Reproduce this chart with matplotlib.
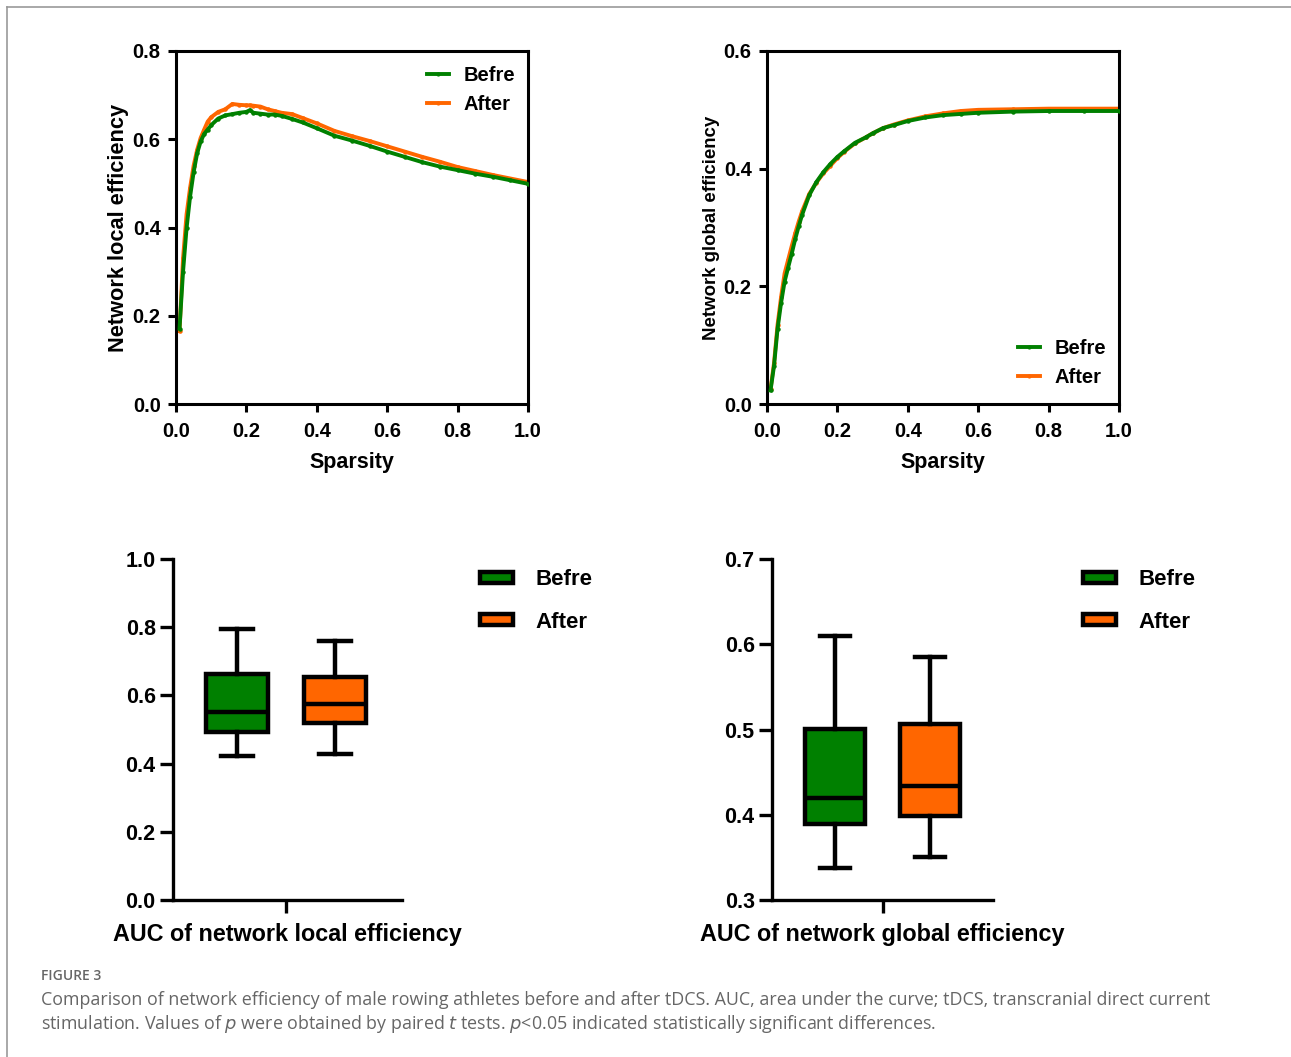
import numpy as np
import matplotlib
matplotlib.use("Agg")
import matplotlib.pyplot as plt
from matplotlib.patches import Patch
from matplotlib.lines import Line2D

plt.rcParams['font.family'] = ['Liberation Sans', 'DejaVu Sans']

W, H = 1291, 1057
GREEN = '#008000'
ORANGE = '#FF6600'

# --- curve data ---
sparsity_local = [0.01, 0.02, 0.03, 0.04, 0.05, 0.06, 0.07, 0.08, 0.09, 0.10,
                  0.12, 0.14, 0.16, 0.18, 0.20, 0.21, 0.22, 0.24, 0.26, 0.28,
                  0.30, 0.33, 0.36, 0.40, 0.45, 0.50, 0.55, 0.60, 0.65, 0.70,
                  0.75, 0.80, 0.85, 0.90, 0.95, 1.00]
local_before = [0.171, 0.300, 0.398, 0.470, 0.525, 0.568, 0.595, 0.612, 0.622, 0.632,
                0.647, 0.654, 0.657, 0.660, 0.662, 0.666, 0.660, 0.658, 0.656, 0.656,
                0.653, 0.646, 0.638, 0.625, 0.608, 0.597, 0.585, 0.572, 0.560, 0.548,
                0.538, 0.530, 0.522, 0.515, 0.507, 0.499]
local_after = [0.165, 0.330, 0.430, 0.490, 0.540, 0.576, 0.603, 0.622, 0.640, 0.650,
               0.662, 0.668, 0.680, 0.678, 0.677, 0.677, 0.676, 0.674, 0.668, 0.664,
               0.660, 0.657, 0.648, 0.636, 0.619, 0.607, 0.596, 0.584, 0.572, 0.560,
               0.549, 0.537, 0.528, 0.519, 0.511, 0.503]

sparsity_global = [0.01, 0.02, 0.03, 0.04, 0.05, 0.06, 0.07, 0.08, 0.09, 0.10,
                   0.12, 0.14, 0.16, 0.18, 0.20, 0.22, 0.25, 0.28, 0.30, 0.33,
                   0.36, 0.40, 0.45, 0.50, 0.55, 0.60, 0.70, 0.80, 0.90, 1.00]
global_before = [0.023, 0.065, 0.128, 0.172, 0.208, 0.232, 0.255, 0.280, 0.302, 0.322,
                 0.355, 0.377, 0.394, 0.408, 0.420, 0.430, 0.444, 0.453, 0.460, 0.469,
                 0.474, 0.481, 0.487, 0.491, 0.493, 0.495, 0.497, 0.498, 0.498, 0.498]
global_after = [0.025, 0.070, 0.135, 0.182, 0.222, 0.245, 0.268, 0.290, 0.310, 0.328,
                0.357, 0.376, 0.392, 0.405, 0.418, 0.429, 0.443, 0.453, 0.460, 0.469,
                0.475, 0.482, 0.489, 0.494, 0.498, 0.500, 0.501, 0.502, 0.502, 0.502]

# --- box plot data: whisker low, q1, median, q3, whisker high ---
auc_local_before = [0.423, 0.493, 0.552, 0.662, 0.795]
auc_local_after = [0.427, 0.518, 0.574, 0.653, 0.760]
auc_global_before = [0.338, 0.389, 0.420, 0.501, 0.610]
auc_global_after = [0.350, 0.399, 0.434, 0.506, 0.585]

labels = ['Befre', 'After']


def px_axes(fig, x0, y0, x1, y1):
    return fig.add_axes([x0 / W, 1 - y1 / H, (x1 - x0) / W, (y1 - y0) / H])


def px(x, y):
    return (x / W, 1 - y / H)


def stats(v):
    return dict(whislo=v[0], q1=v[1], med=v[2], q3=v[3], whishi=v[4], fliers=[])


fig = plt.figure(figsize=(W / 100, H / 100), dpi=100)

# page border lines
fig.add_artist(Line2D([7 / W, 1], [1 - 7 / H, 1 - 7 / H], color='#999999', lw=1.2))
fig.add_artist(Line2D([7 / W, 7 / W], [0, 1 - 7 / H], color='#999999', lw=1.2))


def line_panel(ax, x, yb, ya, ymax, ylabel, ylab_size, ylab_pad, leg_anchor):
    ax.plot(x, yb, '-', color=GREEN, lw=2.8, marker='o', ms=2.2, label=labels[0], zorder=3)
    ax.plot(x, ya, '-', color=ORANGE, lw=2.8, marker='o', ms=2.2, label=labels[1], zorder=2)
    ax.set_xlim(0, 1.0)
    ax.set_ylim(0, ymax)
    ax.set_xticks(np.arange(0, 1.01, 0.2))
    ax.set_yticks(np.arange(0, ymax + 0.001, 0.2))
    ax.xaxis.set_major_formatter(matplotlib.ticker.FormatStrFormatter('%.1f'))
    ax.yaxis.set_major_formatter(matplotlib.ticker.FormatStrFormatter('%.1f'))
    for s in ax.spines.values():
        s.set_linewidth(2.2)
    ax.tick_params(direction='out', length=6, width=2.2, labelsize=14.5, pad=5)
    ax.tick_params(axis='x', pad=7)
    for t in ax.get_xticklabels() + ax.get_yticklabels():
        t.set_fontweight('bold')
    ax.set_xlabel('Sparsity', fontsize=15.5, fontweight='bold', labelpad=8)
    ax.set_ylabel(ylabel, fontsize=ylab_size, fontweight='bold', labelpad=ylab_pad)
    leg = ax.legend(loc='center left', bbox_to_anchor=px(*leg_anchor),
                    bbox_transform=fig.transFigure, frameon=False,
                    prop=dict(size=14.5, weight='bold'), handlelength=1.1,
                    handletextpad=0.7, labelspacing=0.5, borderaxespad=0,
                    borderpad=0)
    for h in leg.legend_handles:
        h.set_markersize(2)


ax1 = px_axes(fig, 176, 51, 528, 404)
line_panel(ax1, sparsity_local, local_before, local_after, 0.8,
           'Network local efficiency', 15.7, 3, (427, 90))

ax2 = px_axes(fig, 767, 51, 1119, 404)
line_panel(ax2, sparsity_global, global_before, global_after, 0.6,
           'Network global efficiency', 13.4, 3, (1018, 363))


def box_panel(ax, before, after, ylim, yticks, xlabel, xlim):
    bxp = ax.bxp([stats(before), stats(after)], positions=[1, 2], widths=0.63,
                 patch_artist=True, showfliers=False,
                 boxprops=dict(linewidth=3.2, edgecolor='black'),
                 medianprops=dict(color='black', linewidth=3.2),
                 whiskerprops=dict(color='black', linewidth=3.2),
                 capprops=dict(color='black', linewidth=3.2),
                 capwidths=0.32)
    for b, c in zip(bxp['boxes'], [GREEN, ORANGE]):
        b.set_facecolor(c)
    ax.set_xlim(*xlim)
    ax.set_ylim(*ylim)
    ax.set_yticks(yticks)
    ax.yaxis.set_major_formatter(matplotlib.ticker.FormatStrFormatter('%.1f'))
    ax.set_xticks([1.5])
    ax.set_xticklabels([''])
    ax.spines['top'].set_visible(False)
    ax.spines['right'].set_visible(False)
    ax.spines['left'].set_linewidth(2.4)
    ax.spines['bottom'].set_linewidth(2.4)
    ax.tick_params(direction='out', length=9.5, width=2.4, labelsize=15.5, pad=3)
    for t in ax.get_yticklabels():
        t.set_fontweight('bold')
    ax.set_xlabel(xlabel, fontsize=16.8, fontweight='bold', labelpad=4)


ax3 = px_axes(fig, 173, 559, 402, 900)
box_panel(ax3, auc_local_before, auc_local_after, (0, 1.0),
          np.arange(0, 1.01, 0.2), 'AUC of network local efficiency', (0.347, 2.684))

ax4 = px_axes(fig, 772, 559, 993, 900)
box_panel(ax4, auc_global_before, auc_global_after, (0.3, 0.7),
          np.arange(0.3, 0.701, 0.1), 'AUC of network global efficiency', (0.337, 2.663))

# box legends placed in figure pixels
for x0 in (480, 1083):
    handles = [Patch(facecolor=GREEN, edgecolor='black', linewidth=3.2),
               Patch(facecolor=ORANGE, edgecolor='black', linewidth=3.2)]
    fig.legend(handles, labels, loc='center left',
               bbox_to_anchor=px(x0, 601), frameon=False,
               prop=dict(size=16, weight='bold'), handlelength=1.49, handleheight=0.39,
               handletextpad=1.0, labelspacing=0.97, borderaxespad=0, borderpad=0)

# caption
fig.text(41 / W, 1 - 976 / H, 'FIGURE 3', fontsize=10, color='#666666',
         family='Open Sans', fontweight='semibold', va='center')
fig.text(41 / W, 1 - 1000 / H,
         'Comparison of network efficiency of male rowing athletes before and after tDCS. '
         'AUC, area under the curve; tDCS, transcranial direct current',
         fontsize=12.9, color='#666666', family='Open Sans', va='center')
fig.text(41 / W, 1 - 1024 / H,
         'stimulation. Values of $\\it{p}$ were obtained by paired $\\it{t}$ tests. '
         '$\\it{p}$<0.05 indicated statistically significant differences.',
         fontsize=12.9, color='#666666', family='Open Sans', va='center')

fig.savefig('out.png', dpi=100)
